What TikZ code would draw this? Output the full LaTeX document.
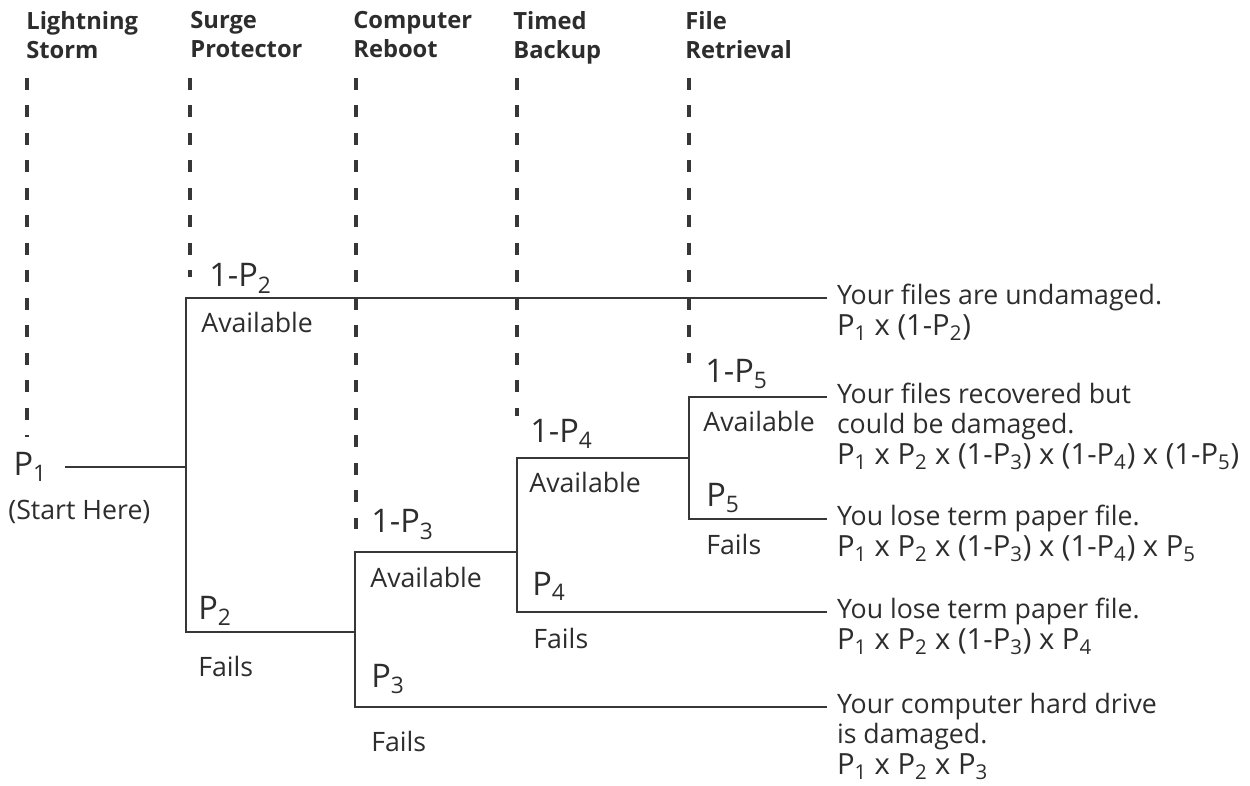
\documentclass[tikz,border=0pt]{standalone}
\usepackage{fontspec}
\setmainfont{Open Sans}
\usetikzlibrary{positioning}
\definecolor{TreeGray}{RGB}{55,55,55}
\definecolor{InkGray}{RGB}{45,45,45}
\newcommand{\prb}[1]{P\textsubscript{#1}}
\newcommand{\fml}[1]{{\fontsize{16.6}{17.6}\selectfont #1}}

\begin{document}
\begin{tikzpicture}[
  x=0.02cm, y=-0.02cm,
  stage/.style={draw=TreeGray, line width=0.065cm, dash pattern=on 0.24cm off 0.31cm},
  branch/.style={draw=TreeGray, line width=0.04cm},
  hdr/.style={inner sep=0pt, anchor=north west, align=left, text=InkGray, font=\fontsize{13.5}{16.5}\selectfont\bfseries},
  prob/.style={inner sep=0pt, anchor=base west, text=InkGray, font=\fontsize{18.5}{20}\selectfont},
  tag/.style={inner sep=0pt, anchor=base west, text=InkGray, font=\fontsize{15.2}{17.6}\selectfont},
  outc/.style={inner sep=0pt, outer xsep=0.2cm, anchor=west, text height=11.4pt, text depth=3.8pt, text=InkGray, font=\fontsize{15.2}{17.6}\selectfont},
  outx/.style={inner sep=0pt, outer xsep=0.2cm, anchor=north west, align=left, text=InkGray, font=\fontsize{15.2}{17.6}\selectfont}
]
\useasboundingbox (0,0) rectangle (1250,786);

% stage headings
\node[hdr] (hdStorm) at (26,11) {Lightning\\Storm};
\node[hdr] (hdSurge) at (190,11) {Surge\\Protector};
\node[hdr] (hdReboot) at (353,11) {Computer\\Reboot};
\node[hdr] (hdBackup) at (513,11) {Timed\\Backup};
\node[hdr] (hdRetrieval) at (685,11) {File\\Retrieval};

% dashed stage markers
\foreach \x/\yend in {27/437, 190/277, 356/529, 517/416, 689/363}
  \draw[stage] (\x,78) -- (\x,\yend);

% start
\node[prob, anchor=east, outer xsep=0.36cm] (p1) at (65,467) {\prb{1}};
\node[tag] (start) at (8,520) {(Start Here)};

% junctions
\coordinate (j2) at (186,467);
\coordinate (j3) at (355,632);
\coordinate (j4) at (517,552);
\coordinate (j5) at (689,458);

% outcomes
\node[outc] (o1) at (827,298) {Your files are undamaged.};
\node[outx] (x1) at ([yshift=-1.5pt]o1.south west) {\fml{\prb{1} x (1-\prb{2})}};
\node[outc] (o2) at (827,397) {Your files recovered but};
\node[outx] (x2) at ([yshift=-1.5pt]o2.south west) {could be damaged.\\\fml{\prb{1} x \prb{2} x (1-\prb{3}) x (1-\prb{4}) x (1-\prb{5})}};
\node[outc] (o3) at (827,519) {You lose term paper file.};
\node[outx] (x3) at ([yshift=-1.5pt]o3.south west) {\fml{\prb{1} x \prb{2} x (1-\prb{3}) x (1-\prb{4}) x \prb{5}}};
\node[outc] (o4) at (827,612) {You lose term paper file.};
\node[outx] (x4) at ([yshift=-1.5pt]o4.south west) {\fml{\prb{1} x \prb{2} x (1-\prb{3}) x \prb{4}}};
\node[outc] (o5) at (827,707) {Your computer hard drive};
\node[outx] (x5) at ([yshift=-1.5pt]o5.south west) {is damaged.\\\fml{\prb{1} x \prb{2} x \prb{3}}};

% tree
\draw[branch] (p1) -- (j2);
\draw[branch] (o1.west) -| (j2) |- (j3);
\draw[branch] (o5.west) -| (j3) |- (j4);
\draw[branch] (o4.west) -| (j4) |- (j5);
\draw[branch] (o3.west) -| (j5) |- (o2.west);

% branch labels
\node[prob] (q2a) at (209,287) {1-\prb{2}};
\node[tag] (av2) at (201,333) {Available};
\node[prob] (q2f) at (198,619) {\prb{2}};
\node[tag] (fl2) at (198,676) {Fails};
\node[prob] (q3a) at (371,533) {1-\prb{3}};
\node[tag] (av3) at (370,587) {Available};
\node[prob] (q3f) at (371,687) {\prb{3}};
\node[tag] (fl3) at (371,751) {Fails};
\node[prob] (q4a) at (530,443) {1-\prb{4}};
\node[tag] (av4) at (529,493) {Available};
\node[prob] (q4f) at (532,595) {\prb{4}};
\node[tag] (fl4) at (533,648) {Fails};
\node[prob] (q5a) at (705,383) {1-\prb{5}};
\node[tag] (av5) at (703,432) {Available};
\node[prob] (q5f) at (706,507) {\prb{5}};
\node[tag] (fl5) at (706,555) {Fails};
\end{tikzpicture}
\end{document}
